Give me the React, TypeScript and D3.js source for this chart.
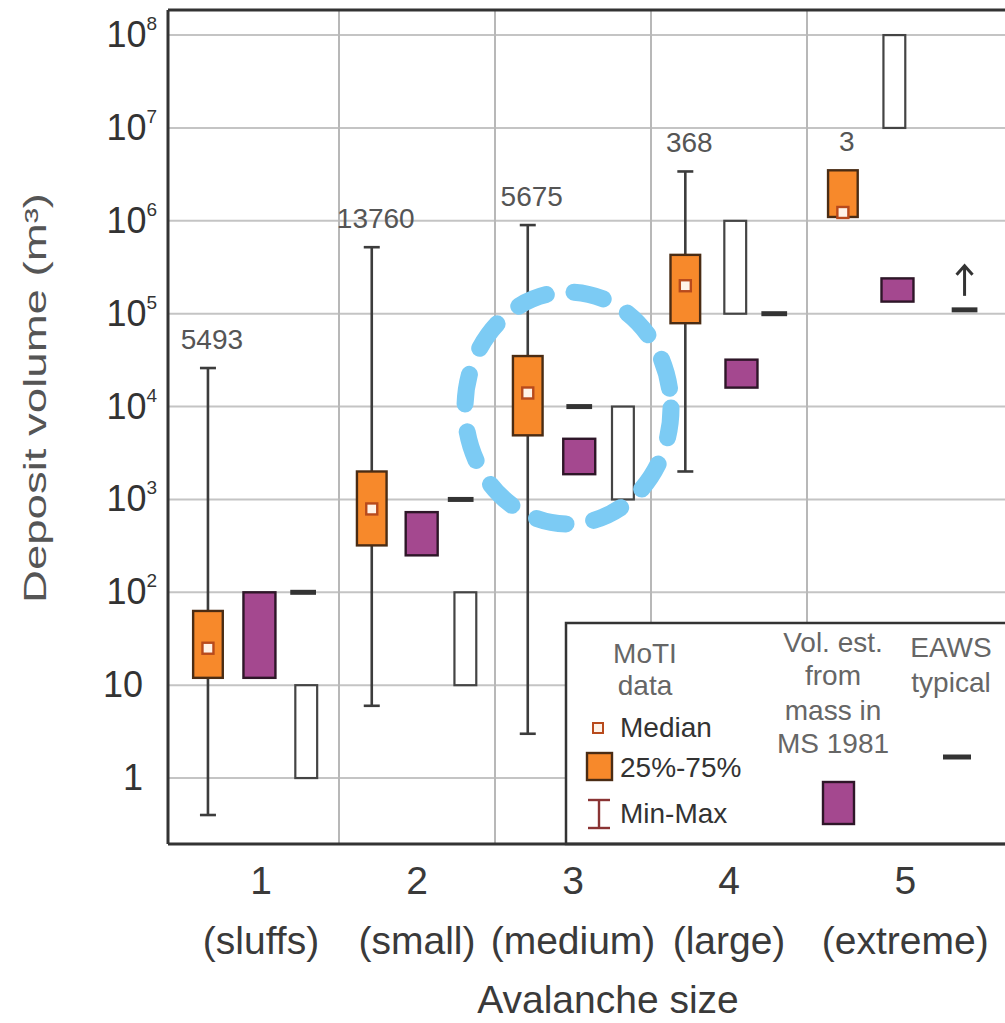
import React from 'react';
import * as d3 from 'd3';

const categories = ['1', '2', '3', '4', '5'];
const sizeNames = ['(sluffs)', '(small)', '(medium)', '(large)', '(extreme)'];
const counts = ['5493', '13760', '5675', '368', '3'];

// MoTI data
const motiMin = [0.4, 6, 3, 2000, null];
const motiMax = [26000, 520000, 900000, 3400000, null];
const motiQ25 = [12, 320, 4900, 79000, 1100000];
const motiQ75 = [63, 2000, 35000, 430000, 3500000];
const motiMedian = [25, 790, 14000, 200000, 1230000];

// volume estimated from mass in MS 1981
const msLow = [12, 250, 1870, 16000, 135000];
const msHigh = [100, 730, 4500, 32000, 240000];

// EAWS typical volume
const eawsTypical = [100, 1000, 10000, 100000, 110000];

// open range bars
const rangeLow = [1, 10, 1000, 100000, 1e7];
const rangeHigh = [10, 100, 10000, 1000000, 1e8];

const yTicks = [1, 10, 1e2, 1e3, 1e4, 1e5, 1e6, 1e7, 1e8];
const dividers = [1.5, 2.5, 3.5, 4.5];

// where each mark sits inside its group (category units)
const motiSlot = [-0.34, -0.29, -0.29, -0.28, -0.27];
const msSlot = [-0.01, 0.03, 0.04, 0.08, 0.08];
const eawsSlot = [0.27, 0.28, 0.04, 0.29, 0.51];
const rangeSlot = [0.29, 0.31, 0.32, 0.04, 0.06];
const labelShift = [0, 0, 0, 0, 0.13];

const W = 1005;
const H = 1023;
const left = 168;
const top = 10;
const bottom = 844;
const right = 1005;
const font = "'Liberation Sans', Arial, sans-serif";

const orange = '#f7892b';
const purple = '#a4488f';

const x = d3.scaleLinear().domain([0.5, 5.5]).range([183, 963]);
const y = d3.scaleLog().domain([Math.pow(10, -0.71), Math.pow(10, 8.27)]).range([bottom, top]);

const unit = x(1) - x(0);
const boxW = 0.19 * unit;
const msW = 0.205 * unit;
const rangeW = 0.14 * unit;
const dashW = 0.165 * unit;

const sup = ['', '', '2', '3', '4', '5', '6', '7', '8'];

export default function App() {
  return (
    <svg width={W} height={H} style={{ position: 'absolute', left: 0, top: 0, background: '#fff' }} fontFamily={font}>
      {/* grid */}
      {yTicks.map((t) => (
        <line key={'h' + t} x1={left} x2={right} y1={y(t)} y2={y(t)} stroke="#c4c4c4" strokeWidth={2} />
      ))}
      {dividers.map((d) => (
        <line key={'v' + d} x1={x(d)} x2={x(d)} y1={top} y2={bottom} stroke="#b8b8b8" strokeWidth={2} />
      ))}

      {/* y tick labels */}
      {yTicks.map((t, i) =>
        i < 2 ? (
          <text key={'yl' + t} x={143} y={y(t) + 12} fontSize={36} textAnchor="end" fill="#333">
            {t}
          </text>
        ) : (
          <text key={'yl' + t} x={157} y={y(t) + 12} fontSize={36} textAnchor="end" fill="#333">
            10
            <tspan fontSize={19} dy={-17}>{sup[i]}</tspan>
          </text>
        )
      )}

      {/* open range bars */}
      {categories.map((c, i) => (
        <rect
          key={'r' + c}
          x={x(i + 1 + rangeSlot[i]) - rangeW / 2}
          y={y(rangeHigh[i])}
          width={rangeW}
          height={y(rangeLow[i]) - y(rangeHigh[i])}
          fill="#fff"
          stroke="#444"
          strokeWidth={2.2}
        />
      ))}

      {/* MoTI whiskers */}
      {categories.map((c, i) => {
        if (motiMin[i] == null || motiMax[i] == null) return null;
        const cx = x(i + 1 + motiSlot[i]);
        return (
          <g key={'w' + c} stroke="#3c3c3c" strokeWidth={2.6}>
            <line x1={cx} x2={cx} y1={y(motiMax[i] as number)} y2={y(motiMin[i] as number)} />
            <line x1={cx - 8} x2={cx + 8} y1={y(motiMax[i] as number)} y2={y(motiMax[i] as number)} />
            <line x1={cx - 8} x2={cx + 8} y1={y(motiMin[i] as number)} y2={y(motiMin[i] as number)} />
          </g>
        );
      })}

      {/* MoTI boxes */}
      {categories.map((c, i) => {
        const cx = x(i + 1 + motiSlot[i]);
        const m = y(motiMedian[i]);
        return (
          <g key={'b' + c}>
            <rect
              x={cx - boxW / 2}
              y={y(motiQ75[i])}
              width={boxW}
              height={y(motiQ25[i]) - y(motiQ75[i])}
              fill={orange}
              stroke="#4a2c14"
              strokeWidth={2.4}
            />
            <rect x={cx - 5.5} y={m - 5.5} width={11} height={11} fill="#fff3e8" stroke="#b84a1c" strokeWidth={2.4} />
          </g>
        );
      })}

      {/* MS 1981 boxes */}
      {categories.map((c, i) => (
        <rect
          key={'ms' + c}
          x={x(i + 1 + msSlot[i]) - msW / 2}
          y={y(msHigh[i])}
          width={msW}
          height={y(msLow[i]) - y(msHigh[i])}
          fill={purple}
          stroke="#2e1628"
          strokeWidth={2.4}
        />
      ))}

      {/* EAWS typical */}
      {categories.map((c, i) => {
        const cx = x(i + 1 + eawsSlot[i]);
        const yy = y(eawsTypical[i]);
        return <line key={'e' + c} x1={cx - dashW / 2} x2={cx + dashW / 2} y1={yy} y2={yy} stroke="#333" strokeWidth={5} />;
      })}
      {(() => {
        const cx = x(5 + eawsSlot[4]);
        const yy = y(eawsTypical[4]);
        return (
          <g stroke="#333" strokeWidth={3} fill="none">
            <line x1={cx} x2={cx} y1={yy - 14} y2={yy - 44} />
            <polyline points={`${cx - 8},${yy - 35} ${cx},${yy - 44} ${cx + 8},${yy - 35}`} />
          </g>
        );
      })()}

      {/* sample counts */}
      {categories.map((c, i) => {
        const cx = x(i + 1 + motiSlot[i]);
        const topVal = motiMax[i] ?? motiQ75[i];
        return (
          <text key={'n' + c} x={cx + 4} y={y(topVal as number) - 19} fontSize={28} textAnchor="middle" fill="#555">
            {counts[i]}
          </text>
        );
      })}

      {/* annotation */}
      <ellipse
        cx={568}
        cy={408}
        rx={103}
        ry={116}
        fill="none"
        stroke="#7ccbf4"
        strokeWidth={17}
        strokeDasharray="30 28"
        strokeLinecap="round"
      />

      {/* legend */}
      <g>
        <rect x={566} y={623} width={460} height={bottom - 623} fill="#fff" stroke="#333" strokeWidth={2.5} />
        <g fontSize={28} fill="#666" textAnchor="middle">
          <text x={645} y={663}>MoTI</text>
          <text x={645} y={695}>data</text>
          <text x={833} y={652}>Vol. est.</text>
          <text x={833} y={685}>from</text>
          <text x={833} y={720}>mass in</text>
          <text x={833} y={753}>MS 1981</text>
          <text x={951} y={657}>EAWS</text>
          <text x={951} y={692}>typical</text>
        </g>
        <g fontSize={28} fill="#333">
          <text x={620} y={737}>Median</text>
          <text x={620} y={777}>25%-75%</text>
          <text x={620} y={823}>Min-Max</text>
        </g>
        <rect x={593} y={723} width={10} height={10} fill="#fff3e8" stroke="#b84a1c" strokeWidth={2} />
        <rect x={587} y={753} width={25} height={27} fill={orange} stroke="#4a2c14" strokeWidth={2.4} />
        <g stroke="#8a3434" strokeWidth={2.4}>
          <line x1={599} x2={599} y1={800} y2={828} />
          <line x1={588} x2={610} y1={800} y2={800} />
          <line x1={588} x2={610} y1={828} y2={828} />
        </g>
        <rect x={823} y={782} width={31} height={42} fill={purple} stroke="#2e1628" strokeWidth={2.4} />
        <line x1={943} x2={971} y1={757} y2={757} stroke="#333" strokeWidth={5} />
      </g>

      {/* frame */}
      <g stroke="#333" strokeWidth={3} fill="none">
        <line x1={left} x2={right} y1={top} y2={top} />
        <line x1={left} x2={left} y1={top} y2={bottom} />
        <line x1={left} x2={right} y1={bottom} y2={bottom} />
      </g>

      {/* x labels */}
      {categories.map((c, i) => (
        <g key={'xl' + c} fontSize={39} fill="#3a3a3a" textAnchor="middle">
          <text x={x(i + 1 + labelShift[i])} y={894}>{c}</text>
          <text x={x(i + 1 + labelShift[i])} y={954}>{sizeNames[i]}</text>
        </g>
      ))}
      <text x={608} y={1013} fontSize={39} fill="#3a3a3a" textAnchor="middle">
        Avalanche size
      </text>

      {/* y title */}
      <text
        transform="translate(46,398) rotate(-90)"
        fontSize={31}
        fill="#555"
        textAnchor="middle"
        textLength={410}
        lengthAdjust="spacingAndGlyphs"
      >
        Deposit volume (m³)
      </text>
    </svg>
  );
}
